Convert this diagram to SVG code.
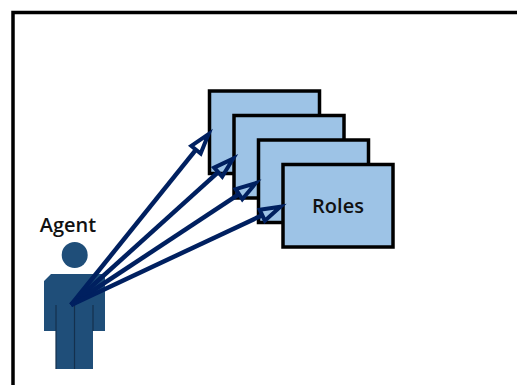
<svg xmlns="http://www.w3.org/2000/svg" width="517" height="385" viewBox="0 0 517 385">
<style>
.role{fill:#9DC3E6;stroke:#000;stroke-width:3.5}
.lbl{font-family:"Open Sans","Liberation Sans",sans-serif;font-weight:600;font-size:20px;fill:#111}
.conn{stroke:#002060;stroke-width:4.5;fill:none;marker-end:url(#head)}
.body{fill:#1F4E79}
.seam{stroke:#14304d;stroke-width:1.2;fill:none}
</style>
<defs>
<marker id="head" markerUnits="userSpaceOnUse" markerWidth="40" markerHeight="40" viewBox="-5 -20 40 40" refX="0" refY="0" orient="auto" overflow="visible">
<polygon points="0,-6 20,0 0,6" fill="none" stroke="#002060" stroke-width="4" stroke-linejoin="miter"/>
</marker>
</defs>
<rect width="517" height="385" fill="#fff"/>
<path d="M517 12.5H13V385" fill="none" stroke="#000" stroke-width="3.5"/>
<g id="role-1"><rect class="role" x="209.5" y="91" width="110" height="82.5"/></g>
<g id="role-2"><rect class="role" x="234" y="115.5" width="110" height="82.5"/></g>
<g id="role-3"><rect class="role" x="258.5" y="140" width="110" height="82.5"/></g>
<g id="role-4"><rect class="role" x="283" y="164.5" width="110" height="82.5"/>
<text class="lbl" x="338" y="213" text-anchor="middle">Roles</text></g>
<g id="agent">
<text class="lbl" x="68" y="232" text-anchor="middle">Agent</text>
<circle class="body" cx="74.7" cy="255" r="13"/>
<path class="body" d="M51 274H105V331H93V369H56V331H44V281Z"/>
<path class="seam" d="M56 305V369M74.5 305V369M93 305V331"/>
</g>
<g id="connectors">
<line class="conn" x1="71" y1="305" x2="196" y2="149.7"/>
<line class="conn" x1="71" y1="305" x2="218.2" y2="172.1"/>
<line class="conn" x1="71" y1="305" x2="239" y2="194.2"/>
<line class="conn" x1="71" y1="305" x2="262.3" y2="215.2"/>
</g>
</svg>
